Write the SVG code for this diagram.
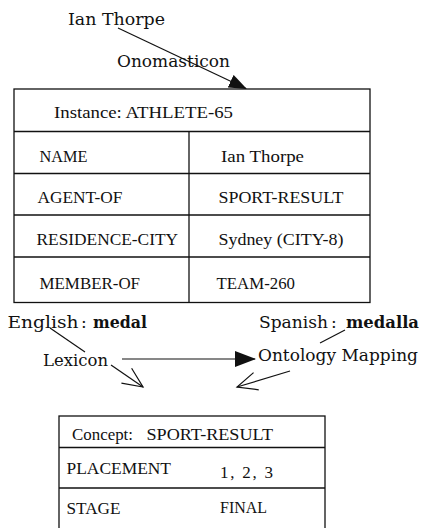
<svg xmlns="http://www.w3.org/2000/svg" width="423" height="528" viewBox="0 0 423 528" font-family="'Liberation Serif', 'DejaVu Serif', serif">
  <style>
    text { fill: #111; }
    .cell { font-family: "Liberation Serif", "DejaVu Serif", serif; font-size: 17px; }
    .label { font-family: "DejaVu Serif", "Liberation Serif", serif; font-size: 17px; }
    .bold { font-weight: bold; }
    .frame { fill: #fff; stroke: #111; stroke-width: 1.3; }
    .rule { stroke: #111; stroke-width: 1.3; fill: none; }
    .conn { stroke: #111; stroke-width: 1.2; fill: none; }
  </style>
  <defs>
    <marker id="solidHead" markerUnits="userSpaceOnUse" viewBox="0 0 18 14" markerWidth="18" markerHeight="14" refX="17" refY="7" orient="auto">
      <path d="M0,0 L18,7 L0,14 z" fill="#111"/>
    </marker>
    <marker id="wideHead" markerUnits="userSpaceOnUse" viewBox="0 0 21 16" markerWidth="21" markerHeight="16" refX="20" refY="8" orient="auto">
      <path d="M0,0 L21,8 L0,16 z" fill="#111"/>
    </marker>
    <marker id="openHead" markerUnits="userSpaceOnUse" viewBox="-1 -1 23 20" markerWidth="23" markerHeight="20" refX="20" refY="9" orient="auto">
      <path d="M0,0 L20,9 L0,18" fill="none" stroke="#111" stroke-width="1.2"/>
    </marker>
  </defs>

  <!-- free-standing labels -->
  <g id="label-ian-thorpe">
    <text class="label" x="68" y="25" textLength="97" lengthAdjust="spacingAndGlyphs">Ian Thorpe</text>
  </g>
  <g id="label-onomasticon">
    <text class="label" x="117" y="67" font-size="18" textLength="113" lengthAdjust="spacingAndGlyphs">Onomasticon</text>
  </g>

  <!-- instance frame -->
  <g id="instance-athlete-65">
    <rect class="frame" x="14" y="89" width="356" height="213.5"/>
    <line class="rule" x1="14" y1="131.5" x2="370" y2="131.5"/>
    <line class="rule" x1="14" y1="173.5" x2="370" y2="173.5"/>
    <line class="rule" x1="14" y1="215" x2="370" y2="215"/>
    <line class="rule" x1="14" y1="257" x2="370" y2="257"/>
    <line class="rule" x1="189" y1="131.5" x2="189" y2="302.5"/>
    <text class="cell" x="54" y="118" textLength="179" lengthAdjust="spacingAndGlyphs">Instance: ATHLETE-65</text>
    <text class="cell" x="39.5" y="161.5" textLength="48" lengthAdjust="spacingAndGlyphs">NAME</text>
    <text class="cell" x="221" y="161.5" textLength="83" lengthAdjust="spacingAndGlyphs">Ian Thorpe</text>
    <text class="cell" x="37.5" y="203" textLength="85" lengthAdjust="spacingAndGlyphs">AGENT-OF</text>
    <text class="cell" x="218.5" y="203" textLength="125" lengthAdjust="spacingAndGlyphs">SPORT-RESULT</text>
    <text class="cell" x="36.5" y="244.5" textLength="141.5" lengthAdjust="spacingAndGlyphs">RESIDENCE-CITY</text>
    <text class="cell" x="218.5" y="244.5" textLength="125" lengthAdjust="spacingAndGlyphs">Sydney (CITY-8)</text>
    <text class="cell" x="39.5" y="288.5" textLength="100.5" lengthAdjust="spacingAndGlyphs">MEMBER-OF</text>
    <text class="cell" x="216.5" y="288.5" textLength="78.5" lengthAdjust="spacingAndGlyphs">TEAM-260</text>
  </g>

  <g id="label-english">
    <text class="label" y="328"><tspan x="7.5" textLength="71" lengthAdjust="spacingAndGlyphs">English</tspan><tspan x="81">:</tspan><tspan class="bold" x="93" textLength="54" lengthAdjust="spacingAndGlyphs">medal</tspan></text>
  </g>
  <g id="label-spanish">
    <text class="label" y="328"><tspan x="259" textLength="69" lengthAdjust="spacingAndGlyphs">Spanish</tspan><tspan x="331">:</tspan><tspan class="bold" x="346" textLength="73" lengthAdjust="spacingAndGlyphs">medalla</tspan></text>
  </g>
  <g id="label-lexicon">
    <text class="label" x="43" y="366" textLength="65" lengthAdjust="spacingAndGlyphs">Lexicon</text>
  </g>
  <g id="label-ontology-mapping">
    <text class="label" x="258" y="361" textLength="160" lengthAdjust="spacingAndGlyphs">Ontology Mapping</text>
  </g>

  <!-- concept frame -->
  <g id="concept-sport-result">
    <rect class="frame" x="59" y="416" width="266" height="124"/>
    <line class="rule" x1="59" y1="447.5" x2="325" y2="447.5"/>
    <line class="rule" x1="59" y1="488" x2="325" y2="488"/>
    <text class="cell" y="440"><tspan x="72" textLength="61" lengthAdjust="spacingAndGlyphs">Concept:</tspan><tspan x="146.5" textLength="126.5" lengthAdjust="spacingAndGlyphs">SPORT-RESULT</tspan></text>
    <text class="cell" x="66.5" y="473.5" textLength="104.5" lengthAdjust="spacingAndGlyphs">PLACEMENT</text>
    <text class="cell" x="220" y="478" textLength="53" lengthAdjust="spacing">1, 2, 3</text>
    <text class="cell" x="66.5" y="514" textLength="54" lengthAdjust="spacingAndGlyphs">STAGE</text>
    <text class="cell" x="220" y="512.5" textLength="47" lengthAdjust="spacingAndGlyphs">FINAL</text>
  </g>

  <!-- connectors -->
  <g id="connectors">
    <line class="conn" x1="118" y1="28" x2="246" y2="88.5" marker-end="url(#solidHead)"/>
    <line class="conn" x1="50" y1="328" x2="85" y2="352"/>
    <line class="conn" x1="345" y1="330" x2="320" y2="343"/>
    <line class="conn" x1="122" y1="359" x2="255" y2="359" marker-end="url(#wideHead)"/>
    <line class="conn" x1="111" y1="365" x2="143" y2="387" marker-end="url(#openHead)"/>
    <line class="conn" x1="290" y1="371" x2="237" y2="387" marker-end="url(#openHead)"/>
  </g>
</svg>
